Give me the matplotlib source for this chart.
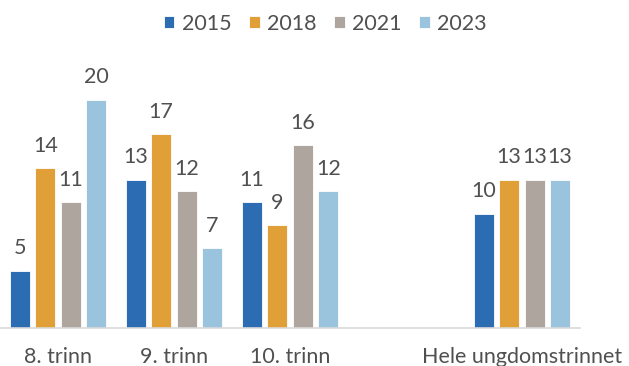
import matplotlib.pyplot as plt
import numpy as np

plt.rcParams['font.family'] = ['Lato', 'DejaVu Sans']

categories = ["8. trinn", "9. trinn", "10. trinn", "", "Hele ungdomstrinnet"]
years = ["2015", "2018", "2021", "2023"]
values = {
    "2015": [5, 13, 11, None, 10],
    "2018": [14, 17, 9, None, 13],
    "2021": [11, 12, 16, None, 13],
    "2023": [20, 7, 12, None, 13],
}
colors = ["#2B6CB2", "#E09F37", "#ADA59E", "#9AC3DD"]

text_color = "#505050"
fs = 15.5
fig = plt.figure(figsize=(6.29, 3.66), dpi=100)
ax = fig.add_axes([0.0, 0.104, 0.922, 0.779])

x = np.arange(len(categories))
pitch = 0.22
width = 0.175
for i, (yr, col) in enumerate(zip(years, colors)):
    idx = [k for k, v in enumerate(values[yr]) if v is not None]
    vals = [values[yr][k] for k in idx]
    pos = x[idx] + (i - 1.5) * pitch
    bars = ax.bar(pos, vals, width, color=col, label=yr,
                  edgecolor="white", linewidth=0.6)
    for b, v in zip(bars, vals):
        ax.annotate(str(v), (b.get_x() + b.get_width() / 2, v),
                    xytext=(0, 9), textcoords="offset points",
                    ha="center", va="bottom", fontsize=fs, color=text_color)

ax.set_xlim(-0.5, len(categories) - 0.5)
ax.set_ylim(0, 25)
ax.set_xticks(x)
ax.set_xticklabels(categories, fontsize=fs, color=text_color)
ax.tick_params(axis="x", length=0, pad=14)
ax.set_yticks([])
for s in ["top", "right", "left"]:
    ax.spines[s].set_visible(False)
ax.spines["bottom"].set_color("#D9D9D9")
ax.spines["bottom"].set_linewidth(1.2)

fig.legend(loc="upper center", bbox_to_anchor=(0.517, 1.015), ncol=4,
           frameon=False, fontsize=fs, handlelength=0.5, handleheight=0.5,
           handletextpad=0.35, columnspacing=0.8, labelcolor=text_color)

fig.savefig("out.png", dpi=100)
